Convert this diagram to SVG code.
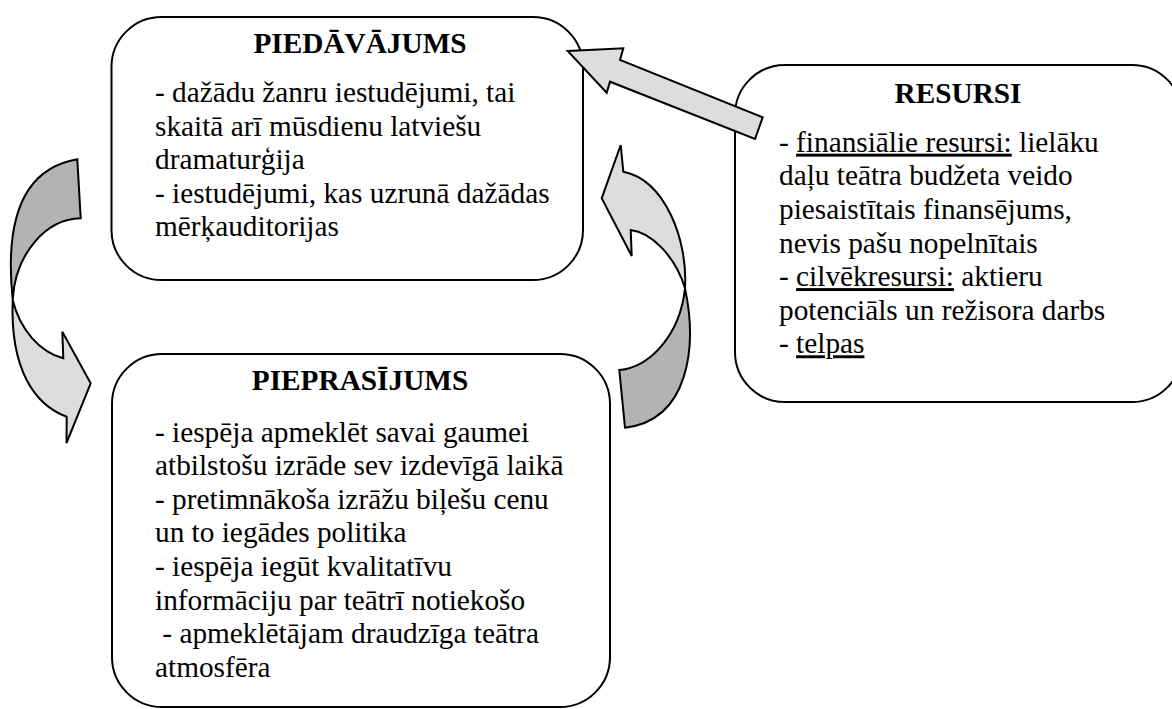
<svg xmlns="http://www.w3.org/2000/svg" width="1172" height="709" viewBox="0 0 1172 709">
<style>
.box{fill:#fff;stroke:#000;stroke-width:2}
.arr{stroke:#000;stroke-width:2;stroke-linejoin:miter}
.light{fill:#dddddd}
.dark{fill:#b3b3b3}
.h{font-size:29.3px;font-weight:bold;text-anchor:middle;fill:#000}
.t{font-size:29.3px;fill:#000}
.u{text-decoration:underline}
</style>
<rect width="1172" height="709" fill="#fff"/>
<g font-family="'Liberation Serif', 'Times New Roman', Times, serif">
<g id="node-piedavajums">
<rect class="box" x="111.5" y="17" width="471.5" height="263" rx="50" ry="50"/>
<text class="h" x="360" y="53">PIEDĀVĀJUMS</text>
<text class="t" x="155" y="102">- dažādu žanru iestudējumi, tai</text>
<text class="t" x="155" y="135.6">skaitā arī mūsdienu latviešu</text>
<text class="t" x="155" y="169.2">dramaturģija</text>
<text class="t" x="155" y="202.8">- iestudējumi, kas uzrunā dažādas</text>
<text class="t" x="155" y="236.4">mērķauditorijas</text>
</g>
<g id="node-pieprasijums">
<rect class="box" x="112" y="354" width="498" height="353" rx="50" ry="50"/>
<text class="h" x="360" y="390">PIEPRASĪJUMS</text>
<text class="t" x="155" y="441.5">- iespēja apmeklēt savai gaumei</text>
<text class="t" x="155" y="475.1">atbilstošu izrāde sev izdevīgā laikā</text>
<text class="t" x="155" y="508.7">- pretimnākoša izrāžu biļešu cenu</text>
<text class="t" x="155" y="542.3">un to iegādes politika</text>
<text class="t" x="155" y="575.9">- iespēja iegūt kvalitatīvu</text>
<text class="t" x="155" y="609.5">informāciju par teātrī notiekošo</text>
<text class="t" x="162.3" y="643.1">- apmeklētājam draudzīga teātra</text>
<text class="t" x="155" y="676.7">atmosfēra</text>
</g>
<g id="node-resursi">
<rect class="box" x="735" y="65" width="447" height="337" rx="50" ry="50"/>
<text class="h" x="958" y="103">RESURSI</text>
<text class="t" x="779" y="151.7">- <tspan class="u">finansiālie resursi:</tspan> lielāku</text>
<text class="t" x="779" y="185.3">daļu teātra budžeta veido</text>
<text class="t" x="779" y="218.9">piesaistītais finansējums,</text>
<text class="t" x="779" y="252.5">nevis pašu nopelnītais</text>
<text class="t" x="779" y="286.1">- <tspan class="u">cilvēkresursi:</tspan> aktieru</text>
<text class="t" x="779" y="319.7">potenciāls un režisora darbs</text>
<text class="t" x="779" y="353.3">- <tspan class="u">telpas</tspan></text>
</g>
</g>
<g id="connectors">
<polygon class="arr light" points="567.7,51 623.3,48.3 620,60 762.7,117.3 755,139 610,81.7 606.7,92.7"/>
<path class="arr dark" d="M77.3,159.3 L80.7,218.3 C45,219 15,255 12.7,300 C6,235 15,170 77.3,159.3 Z"/>
<path class="arr light" d="M12.7,300 C20,330 40,352 63.3,358.3 L62.3,331.7 L90.7,383.3 L66.5,443 L66.7,416.7 C35,405 10,370 12.7,300 Z"/>
<path class="arr dark" d="M685,288.3 C697,345 690,420 625,427.7 L619.3,370 C650,367 680,335 685,288.3 Z"/>
<path class="arr light" d="M620.7,145 L601.7,198.3 L631.7,256 L630.7,230 C650,232 675,255 685,288.3 C688,240 665,180 623.3,171.7 Z"/>
</g>
</svg>
